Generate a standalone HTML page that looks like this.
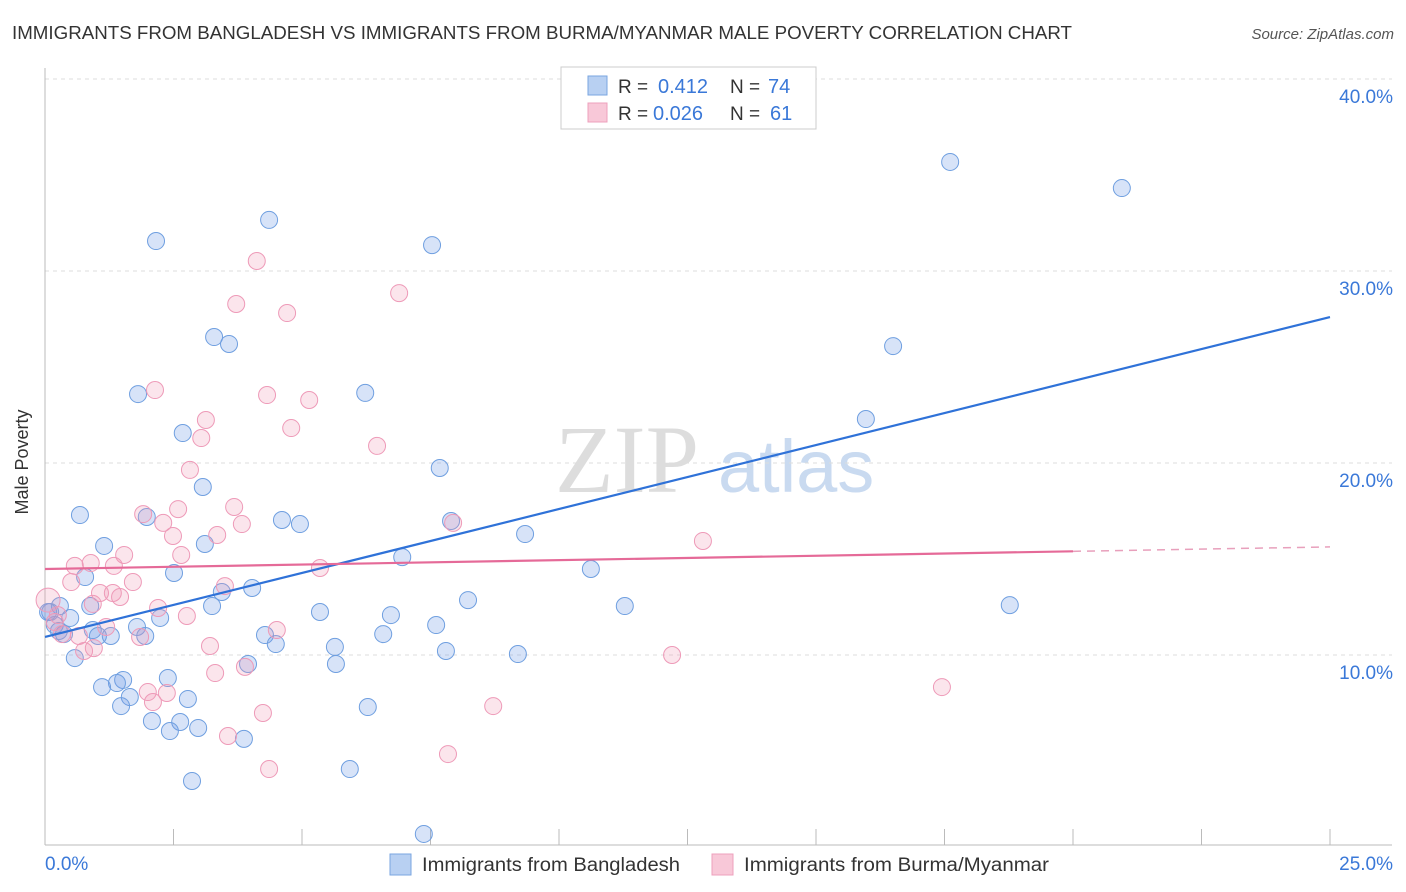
<!DOCTYPE html>
<html><head><meta charset="utf-8"><style>
body{margin:0;background:#fff;font-family:"Liberation Sans",sans-serif;}
svg{display:block}
</style></head><body>
<svg width="1406" height="892" xmlns="http://www.w3.org/2000/svg" id="chart">
<text x="12" y="39" font-size="18" fill="#333" textLength="1060" lengthAdjust="spacingAndGlyphs">IMMIGRANTS FROM BANGLADESH VS IMMIGRANTS FROM BURMA/MYANMAR MALE POVERTY CORRELATION CHART</text>
<text x="1394" y="39" font-size="15" fill="#555" font-style="italic" text-anchor="end">Source: ZipAtlas.com</text>
<g>
<text x="555" y="492" font-size="96" font-family="Liberation Serif,serif" fill="#ddd">ZIP</text>
<text x="718" y="492" font-size="74" fill="#c9daf0">atlas</text>
</g>
<g id="grid"></g>
<g id="axes"></g>
<g id="pts"></g>
<g id="trend"></g>
<text x="22" y="456" font-size="18" fill="#333" transform="rotate(-90 28 456)" text-anchor="middle">Male Poverty</text>
<g>
<rect x="561" y="67" width="255" height="62" fill="#fff" stroke="#ccc"/>
<rect x="588" y="76" width="19" height="19" fill="#b8d0f2" stroke="#7aa6e0"/>
<rect x="588" y="103" width="19" height="19" fill="#f8c8d8" stroke="#eea0bc"/>
<text x="618" y="93" font-size="19" fill="#333">R =</text>
<text x="658" y="93" font-size="20" fill="#3a78d8">0.412</text>
<text x="730" y="93" font-size="19" fill="#333">N =</text>
<text x="768" y="93" font-size="20" fill="#3a78d8">74</text>
<text x="618" y="120" font-size="19" fill="#333">R =</text>
<text x="653" y="120" font-size="20" fill="#3a78d8">0.026</text>
<text x="730" y="120" font-size="19" fill="#333">N =</text>
<text x="770" y="120" font-size="20" fill="#3a78d8">61</text>
</g>
<g>
<rect x="390" y="854" width="21" height="21" fill="#b8d0f2" stroke="#7aa6e0"/>
<text x="422" y="871" font-size="19" fill="#333" textLength="258" lengthAdjust="spacingAndGlyphs">Immigrants from Bangladesh</text>
<rect x="712" y="854" width="21" height="21" fill="#f8c8d8" stroke="#eea0bc"/>
<text x="744" y="871" font-size="19" fill="#333" textLength="305" lengthAdjust="spacingAndGlyphs">Immigrants from Burma/Myanmar</text>
</g>
</svg>
<script>
const blueX=[2.16,4.36,7.53,17.61,20.95,3.29,3.58,16.50,1.81,6.23,15.97,2.68,7.68,3.07,0.68,1.98,4.61,4.96,7.90,9.34,1.15,3.11,6.95,10.62,0.78,2.51,4.03,3.44,0.29,0.88,3.25,5.35,6.73,8.23,11.28,18.77,0.10,0.49,0.19,0.93,1.79,2.24,0.27,0.37,1.03,1.28,1.95,4.28,6.58,7.61,4.49,5.64,7.80,9.20,0.58,3.95,5.66,2.39,1.52,1.40,1.11,1.65,2.78,1.48,6.28,2.08,2.63,2.43,2.98,3.87,5.93,2.86,7.37,0.06];
const blueY=[31.56,32.66,31.35,35.68,34.32,26.56,26.20,26.09,23.59,23.65,22.29,21.56,19.74,18.75,17.29,17.19,17.03,16.82,16.98,16.30,15.68,15.78,15.10,14.48,14.06,14.27,13.49,13.28,12.55,12.55,12.55,12.24,12.08,12.86,12.55,12.60,12.24,11.93,11.56,11.30,11.46,11.93,11.25,11.09,10.99,10.99,10.99,11.04,11.09,11.56,10.57,10.42,10.21,10.05,9.84,9.53,9.53,8.80,8.70,8.54,8.33,7.81,7.71,7.34,7.29,6.56,6.51,6.04,6.20,5.63,4.06,3.44,0.68,12.24];
const pinkX=[4.12,6.89,3.72,4.71,2.14,4.32,5.14,3.13,3.04,4.79,6.46,2.82,2.59,3.68,1.91,2.30,3.83,7.94,2.49,3.35,12.80,1.54,2.65,0.58,0.89,1.34,5.35,0.51,1.71,3.50,1.07,1.32,1.46,0.93,2.20,2.76,0.19,1.19,4.51,0.33,0.66,1.85,0.95,3.21,0.76,3.89,12.20,3.31,17.45,2.00,2.37,2.10,4.24,8.72,3.56,4.36,7.84,0.06,0.25];
const pinkY=[30.52,28.85,28.28,27.81,23.80,23.54,23.28,22.24,21.30,21.82,20.89,19.64,17.60,17.71,17.34,16.88,16.82,16.88,16.20,16.25,15.94,15.21,15.21,14.64,14.79,14.64,14.53,13.80,13.80,13.59,13.23,13.23,13.02,12.66,12.45,12.03,11.72,11.46,11.30,11.09,10.99,10.94,10.36,10.47,10.21,9.38,10.00,9.06,8.33,8.07,8.02,7.55,6.98,7.34,5.78,4.06,4.84,12.86,12.08];
const yTicks=[10,20,30,40];
const yTickLabels=["10.0%","20.0%","30.0%","40.0%"];
const blueTrend=[10.94,27.6];
const pinkTrend=[14.48,15.63];
const NS="http://www.w3.org/2000/svg";
const X=v=>45+v*51.4, Y=v=>847-v*19.2;
function mk(t,a,p){const e=document.createElementNS(NS,t);for(const k in a)e.setAttribute(k,a[k]);p.appendChild(e);return e;}
const grid=document.getElementById('grid'),axes=document.getElementById('axes'),pts=document.getElementById('pts'),tr=document.getElementById('trend');
yTicks.forEach((v,i)=>{
 const l=mk('line',{x1:45,x2:1392,y1:Y(v),y2:Y(v),stroke:'#ddd','stroke-dasharray':'4,4'},grid);
 
 
 const t=mk('text',{x:1393,y:Y(v)+24,'font-size':19,fill:'#3a78d8','text-anchor':'end'},axes);
 t.textContent=yTickLabels[i];
 
 
});
mk('line',{x1:45,x2:45,y1:68,y2:845,stroke:'#bbb'},axes);
mk('line',{x1:45,x2:1392,y1:845,y2:845,stroke:'#bbb'},axes);
for(let i=0;i<=10;i++){const tk=mk('line',{x1:X(i*2.5),x2:X(i*2.5),y1:829,y2:845,stroke:'#bbb'},axes);
 
 }
const x0=mk('text',{x:45,y:870,'font-size':19,fill:'#3a78d8'},axes);x0.textContent='0.0%';


const x1=mk('text',{x:1393,y:870,'font-size':19,fill:'#3a78d8','text-anchor':'end'},axes);x1.textContent='25.0%';


blueX.forEach((v,i)=>{const c=mk('circle',{cx:X(v),cy:Y(blueY[i]),r:8.5,fill:'rgba(110,155,230,0.28)',stroke:'#6f9fe0','stroke-width':1},pts);
 
 });
pinkX.forEach((v,i)=>{const c=mk('circle',{cx:X(v),cy:Y(pinkY[i]),r:i==57?12:8.5,fill:'rgba(240,150,180,0.25)',stroke:'#ee9ab8','stroke-width':1},pts);
 
 });
const bl=mk('line',{x1:X(0),y1:Y(blueTrend[0]),x2:X(25),y2:Y(blueTrend[1]),stroke:'#2f72d8','stroke-width':2.2},tr);


const pm=pinkTrend[0]+(pinkTrend[1]-pinkTrend[0])*0.8;
const pl=mk('line',{x1:X(0),y1:Y(pinkTrend[0]),x2:X(20),y2:Y(pm),stroke:'#e56a98','stroke-width':2.2},tr);


const pd=mk('line',{x1:X(20),y1:Y(pm),x2:X(25),y2:Y(pinkTrend[1]),stroke:'#e8a0bc','stroke-width':1.5,'stroke-dasharray':'8,6'},tr);


</script>
</body></html>
